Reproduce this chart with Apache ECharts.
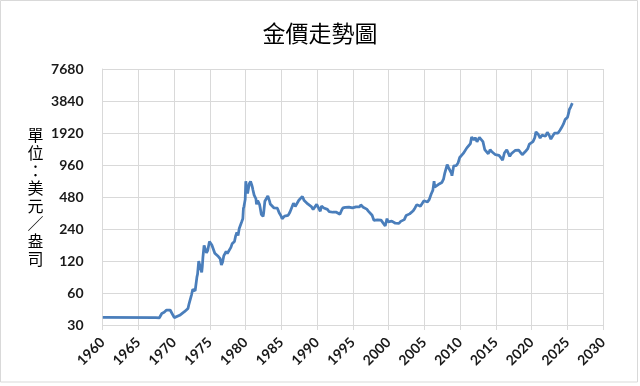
<!DOCTYPE html>
<html><head><meta charset="utf-8">
<script src="https://cdn.jsdelivr.net/npm/echarts@6/dist/echarts.min.js"></script>
<style>html,body{margin:0;padding:0;background:#fff}#c{width:640px;height:386px}</style>
</head><body><div id="c"></div>
<script>
const title = '金價走勢圖';
const yName = '單位：美元／盎司';
const yBase = 30;   // lowest tick, each tick doubles
const yTicks = [30, 60, 120, 240, 480, 960, 1920, 3840, 7680];
const xTicks = [1960, 1965, 1970, 1975, 1980, 1985, 1990, 1995, 2000, 2005, 2010, 2015, 2020, 2025, 2030];
const months = [
'1960-01','1967-06','1967-12','1968-04','1968-08','1968-12','1969-03','1969-06','1969-09','1970-01','1970-04','1970-10','1971-06','1971-12',
'1972-02','1972-06','1972-08','1972-12','1973-01','1973-03','1973-04','1973-06','1973-09','1973-11','1973-12',
'1974-01','1974-03','1974-04','1974-07','1974-09','1974-12','1975-02','1975-04','1975-06','1975-09','1975-12',
'1976-03','1976-06','1976-08','1976-10','1976-12','1977-02','1977-04','1977-06','1977-09','1977-12',
'1978-02','1978-04','1978-06','1978-08','1978-10','1978-12','1979-02','1979-04','1979-06','1979-08','1979-09','1979-10','1979-11','1979-12',
'1980-01','1980-02','1980-03','1980-04','1980-05','1980-06','1980-07','1980-08','1980-09','1980-10','1980-11','1980-12',
'1981-01','1981-03','1981-05','1981-06','1981-07','1981-09','1981-12','1982-01','1982-03','1982-06','1982-07','1982-09','1982-11','1982-12',
'1983-02','1983-05','1983-06','1983-07','1983-09','1983-12','1984-03','1984-06','1984-09','1984-12',
'1985-02','1985-06','1985-09','1985-12','1986-03','1986-06','1986-09','1986-12','1987-03','1987-06','1987-09','1987-12',
'1988-03','1988-06','1988-09','1988-12','1989-03','1989-06','1989-09','1989-12','1990-03','1990-06','1990-08','1990-12',
'1991-03','1991-06','1991-09','1991-12','1992-03','1992-06','1992-09','1992-12','1993-03','1993-06','1993-08','1993-12',
'1994-03','1994-06','1994-09','1994-12','1995-03','1995-06','1995-09','1995-12','1996-02','1996-06','1996-09','1996-12',
'1997-03','1997-06','1997-09','1997-12','1998-03','1998-06','1998-09','1998-12','1999-03','1999-07','1999-10','1999-12',
'2000-03','2000-06','2000-09','2000-12','2001-03','2001-06','2001-09','2001-12','2002-03','2002-06','2002-09','2002-12',
'2003-03','2003-06','2003-09','2003-12','2004-03','2004-06','2004-09','2004-12','2005-03','2005-06','2005-09','2005-12',
'2006-03','2006-05','2006-06','2006-09','2006-12','2007-03','2007-06','2007-09','2007-11','2007-12',
'2008-03','2008-06','2008-10','2008-11','2008-12','2009-02','2009-06','2009-09','2009-12',
'2010-03','2010-06','2010-09','2010-12','2011-03','2011-06','2011-08','2011-09','2011-12',
'2012-02','2012-05','2012-09','2012-12','2013-03','2013-06','2013-09','2013-12','2014-03','2014-06','2014-09','2014-12',
'2015-03','2015-06','2015-09','2015-12','2016-03','2016-07','2016-09','2016-12','2017-03','2017-06','2017-09','2017-12',
'2018-03','2018-06','2018-09','2018-12','2019-03','2019-06','2019-09','2019-12','2020-03','2020-06','2020-08','2020-12',
'2021-03','2021-06','2021-09','2021-12','2022-03','2022-06','2022-09','2022-11','2022-12','2023-03','2023-05','2023-09','2023-12',
'2024-03','2024-06','2024-09','2024-12','2025-01','2025-03','2025-04','2025-06','2025-08','2025-09'
];
const prices = [
35.3,35.2,35.1,38.5,39.5,41.5,43,41.5,40.5,35.2,35.5,37,40,43,
48,58,65,63,65,85,90,120,103,94,106,
129,168,170,143,150,183,180,170,165,142,139,
132,126,110,117,134,136,148,141,146,161,
174,175,183,207,223,208,243,242,279,300,375,392,392,456,
675,665,554,517,514,600,645,627,674,662,624,596,
558,500,480,462,410,443,410,384,330,315,340,438,420,447,
491,437,413,422,412,380,394,377,341,320,
300,317,323,322,345,343,420,391,408,447,460,486,
444,452,413,419,390,367,362,409,393,352,395,378,
363,367,349,361,345,340,345,335,330,362,379,383,
384,386,392,379,382,387,383,387,405,385,383,369,
352,341,323,289,297,292,289,291,287,256,300,280,
286,285,273,272,263,271,283,276,294,321,315,333,
334,356,379,407,406,392,405,442,434,431,456,510,
557,675,596,600,629,655,656,712,806,803,
968,890,807,760,816,943,945,996,1130,
1113,1233,1271,1391,1424,1528,1756,1772,1652,
1742,1586,1744,1688,1592,1342,1349,1225,1336,1279,1241,1200,
1179,1182,1125,1068,1246,1337,1326,1158,1231,1260,1315,1265,
1326,1282,1198,1250,1301,1359,1510,1480,1591,1732,1968,1858,
1718,1834,1775,1790,1948,1837,1681,1726,1798,1912,1992,1916,2030,
2160,2326,2571,2648,2706,2983,3193,3352,3365,3665
];

const toYear = s => { const [y, m] = s.split('-').map(Number); return y + (m - 0.5) / 12; };
// log2 scale relative to the lowest tick: each axis unit is one doubling
const toLog = v => Math.log2(v / yBase);
const seriesData = months.map((m, i) => [toYear(m), toLog(prices[i])]);

const chart = echarts.init(document.getElementById('c'), null, {renderer: 'canvas'});
const labelFont = {fontFamily: 'Lato, "Open Sans", sans-serif', fontWeight: 'bold', fontSize: 14, color: '#1a1a1a'};
chart.setOption({
  animation: false,
  backgroundColor: '#ffffff',
  title: {
    text: title, left: 'center', top: 17,
    textStyle: {fontFamily: '"Noto Sans CJK TC", sans-serif', fontWeight: 'normal', fontSize: 23, color: '#000'}
  },
  grid: {left: 102.5, right: 37, top: 69, bottom: 61, containLabel: false},
  xAxis: {
    type: 'value', min: xTicks[0], max: xTicks[xTicks.length - 1], interval: 5,
    axisLine: {show: true, lineStyle: {color: '#d9d9d9', width: 1}},
    axisTick: {show: true, length: 5, lineStyle: {color: '#d9d9d9'}},
    splitLine: {show: true, lineStyle: {color: '#d9d9d9', width: 1}},
    axisLabel: Object.assign({rotate: 45, margin: 15, formatter: v => String(v)}, labelFont)
  },
  yAxis: {
    type: 'value', min: toLog(yTicks[0]), max: toLog(yTicks[yTicks.length - 1]), interval: 1,
    name: yName.split('').join('\n'),
    nameLocation: 'middle', nameRotate: 0, nameGap: 59,
    nameTextStyle: {fontFamily: '"Noto Sans CJK TC", sans-serif', fontSize: 16, lineHeight: 17.6, color: '#000'},
    axisLine: {show: true, lineStyle: {color: '#d9d9d9', width: 1}},
    axisTick: {show: false},
    splitLine: {show: true, lineStyle: {color: '#d9d9d9', width: 1}},
    axisLabel: Object.assign({margin: 19, formatter: v => String(yTicks[Math.round(v)])}, labelFont)
  },
  graphic: [{type: 'rect', shape: {x: 0.5, y: 0.5, width: 637, height: 381.5}, style: {fill: null, stroke: '#d9d9d9', lineWidth: 1}, silent: true}],
  series: [{
    type: 'line', data: seriesData, showSymbol: false, symbol: 'none',
    lineStyle: {color: '#4a7ebb', width: 2.75}, clip: true
  }]
});
</script></body></html>
